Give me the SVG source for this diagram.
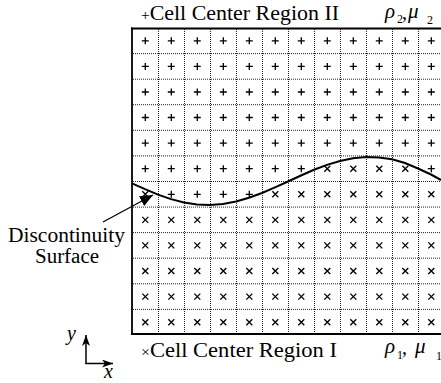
<svg xmlns="http://www.w3.org/2000/svg" width="441" height="383" viewBox="0 0 441 383">
<style>
.lbl{font-family:'Liberation Serif','Times New Roman',serif;font-size:20px;fill:#000}
.it{font-style:italic}
.gk{font-family:'Liberation Serif','Times New Roman',serif;font-size:21px;font-style:italic;fill:#000}
.sub{font-family:'Liberation Serif','Times New Roman',serif;font-size:12px;font-style:normal;fill:#000}
.cm{font-size:20px;font-style:normal}
.dot{fill:none;stroke:#222;stroke-width:1;stroke-dasharray:1 1}
.bd{fill:none;stroke:#000}
.mk{fill:none;stroke:#000;stroke-width:1.3}
</style>
<defs>
<path id="pl" class="mk" d="M-3.5 0H3.5M0-3.5V3.5"/>
<path id="cr" class="mk" d="M-3-3L3 3M3-3L-3 3"/>
<g id="rowP">
<use href="#pl" x="145.3"/><use href="#pl" x="171.3"/><use href="#pl" x="197.3"/><use href="#pl" x="223.3"/><use href="#pl" x="249.3"/><use href="#pl" x="275.3"/><use href="#pl" x="301.3"/><use href="#pl" x="327.3"/><use href="#pl" x="353.3"/><use href="#pl" x="379.3"/><use href="#pl" x="405.3"/><use href="#pl" x="431.3"/>
</g>
<g id="rowX">
<use href="#cr" x="145.3"/><use href="#cr" x="171.3"/><use href="#cr" x="197.3"/><use href="#cr" x="223.3"/><use href="#cr" x="249.3"/><use href="#cr" x="275.3"/><use href="#cr" x="301.3"/><use href="#cr" x="327.3"/><use href="#cr" x="353.3"/><use href="#cr" x="379.3"/><use href="#cr" x="405.3"/><use href="#cr" x="431.3"/>
</g>
<marker id="ah" markerUnits="userSpaceOnUse" markerWidth="14" markerHeight="12" refX="13" refY="5.5" orient="auto">
<path d="M0 0L13 5.5L0 11z" fill="#000"/>
</marker>
<marker id="ax" markerUnits="userSpaceOnUse" markerWidth="12" markerHeight="9" refX="11" refY="4" orient="auto">
<path d="M0 0L11 4L0 8L3 4z" fill="#000"/>
</marker>
</defs>

<g id="grid">
<path class="dot" d="M158.5 29V333M184.5 29V333M210.5 29V333M236.5 29V333M262.5 29V333M288.5 29V333M314.5 29V333M340.5 29V333M366.5 29V333M392.5 29V333M418.5 29V333"/>
<path class="dot" d="M133 53.6H441M133 79.2H441M133 104.7H441M133 130.3H441M133 155.9H441M133 181.5H441M133 207.1H441M133 232.6H441M133 258.2H441M133 283.8H441M133 309.4H441"/>
<path class="bd" stroke-width="2" d="M131 28.5H441M131 334H441"/>
<path class="bd" stroke-width="1.8" d="M132 27.5V335"/>
</g>

<g id="marks">
<use href="#rowP" y="40.8"/>
<use href="#rowP" y="66.4"/>
<use href="#rowP" y="92"/>
<use href="#rowP" y="117.5"/>
<use href="#rowP" y="143.1"/>
<g transform="translate(0 168.7)">
<use href="#pl" x="145.3"/><use href="#pl" x="171.3"/><use href="#pl" x="197.3"/><use href="#pl" x="223.3"/><use href="#pl" x="249.3"/><use href="#pl" x="275.3"/><use href="#pl" x="301.3"/><use href="#cr" x="327.3"/><use href="#cr" x="353.3"/><use href="#cr" x="379.3"/><use href="#cr" x="405.3"/><use href="#pl" x="431.3"/>
</g>
<g transform="translate(0 194.3)">
<use href="#cr" x="145.3"/><use href="#pl" x="171.3"/><use href="#pl" x="197.3"/><use href="#pl" x="223.3"/><use href="#pl" x="249.3"/><use href="#cr" x="275.3"/><use href="#cr" x="301.3"/><use href="#cr" x="327.3"/><use href="#cr" x="353.3"/><use href="#cr" x="379.3"/><use href="#cr" x="405.3"/><use href="#cr" x="431.3"/>
</g>
<use href="#rowX" y="219.9"/>
<use href="#rowX" y="245.4"/>
<use href="#rowX" y="271"/>
<use href="#rowX" y="296.6"/>
<use href="#rowX" y="322.2"/>
</g>

<g id="surface">
<path fill="none" stroke="#000" stroke-width="2" d="M132 183.3L145 189.2L158 194.6L171 199.1L184 202.5L197 204.5L210 205L223 204L236 201.5L249 197.8L262 193L275 187.4L288 181.5L301 175.5L314 169.8L327 164.9L340 161L353 158.3L366 157.1L379 157.4L392 159.2L405 163L418 168.5L431 174.5L441 180"/>
</g>

<g id="connectors">
<path fill="none" stroke="#000" stroke-width="1.3" d="M103 222L153 195" marker-end="url(#ah)"/>
<path fill="none" stroke="#000" stroke-width="1.5" d="M86 364V335" marker-end="url(#ax)"/>
<path fill="none" stroke="#000" stroke-width="1.5" d="M85.3 363.5H113" marker-end="url(#ax)"/>
</g>

<g id="labels">
<text class="lbl" x="141" y="20" textLength="198" lengthAdjust="spacingAndGlyphs"><tspan font-size="14">+</tspan>Cell Center Region II</text>
<text class="lbl" x="141" y="356.5" textLength="196" lengthAdjust="spacingAndGlyphs"><tspan font-size="14">×</tspan>Cell Center Region I</text>
<text class="lbl" x="8" y="241.7" textLength="117" lengthAdjust="spacingAndGlyphs">Discontinuity</text>
<text class="lbl" x="35" y="263.3" textLength="64" lengthAdjust="spacingAndGlyphs">Surface</text>
<text class="lbl it" x="67" y="340">y</text>
<text class="lbl it" x="104" y="378">x</text>
<text class="gk" x="385" y="18">ρ<tspan class="sub" x="397" y="23">2</tspan><tspan class="cm" x="402" y="19">,</tspan><tspan x="408" y="18">μ</tspan><tspan class="sub" x="427" y="24">2</tspan></text>
<text class="gk" x="385" y="353">ρ<tspan class="sub" x="397" y="359">1</tspan><tspan class="cm" x="402" y="354">,</tspan><tspan x="415" y="353">μ</tspan><tspan class="sub" x="436" y="360">1</tspan></text>
</g>
</svg>
